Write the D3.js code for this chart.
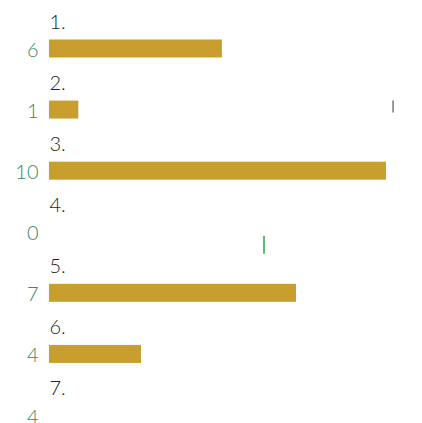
<!DOCTYPE html>
<html>
<head>
	<meta charset="utf-8">
	<style>
		html, body { margin: 0; padding: 0; background: #fff; }
		svg { display: block; }
	</style>
</head>
<body>

	<div id="chart"></div>

	<script src="https://d3js.org/d3.v7.min.js"></script>

	<script>
		// row labels, the counts shown left of each bar, and bar lengths
		const rowLabels = ['1.', '2.', '3.', '4.', '5.', '6.', '7.'];
		const counts = ['6', '1', '10', '0', '7', '4', '4'];
		const barValues = [51.3, 8.7, 100, 0, 73.3, 27.3, 0];

		// the two small tick marks
		const markerRows = [1, 3];
		const markerValues = [102.1, 63.8];
		const markerColors = ['#777777', '#21a84a'];

		const w = 422;
		const h = 423;

		const svg = d3.select('#chart')
			.append('svg')
			.attr('width', w)
			.attr('height', h);

		const x = d3.scaleLinear()
			.domain([0, 100])
			.range([49, 386]);

		// bar top for each row
		const y = d3.scaleLinear()
			.domain([0, rowLabels.length - 1])
			.range([39.5, 406]);

		const barH = 18;

		const rows = svg.selectAll('g.row')
			.data(rowLabels)
			.join('g')
				.attr('class', 'row')
				.attr('transform', (d, i) => `translate(0, ${y(i)})`);

		rows.append('text')
			.attr('x', 49.5)
			.attr('y', -11)
			.attr('fill', '#1e1e1e')
			.style('font-family', 'Lato, sans-serif')
			.style('font-weight', 300)
			.style('font-size', '20px')
			.text(d => d);

		rows.append('text')
			.attr('x', 38.5)
			.attr('y', barH - 0.5)
			.attr('text-anchor', 'end')
			.attr('fill', '#3a8860')
			.style('font-family', 'Lato, sans-serif')
			.style('font-weight', 300)
			.style('font-size', '20px')
			.text((d, i) => counts[i]);

		rows.append('rect')
			.attr('x', x(0))
			.attr('y', 0)
			.attr('width', (d, i) => x(barValues[i]) - x(0))
			.attr('height', barH)
			.attr('fill', '#c89f2e');

		markerRows.forEach((r, i) => {
			const top = i === 0 ? y(r) : y(r) + 13;
			const len = i === 0 ? 12 : 18;
			svg.append('line')
				.attr('x1', x(markerValues[i]))
				.attr('x2', x(markerValues[i]))
				.attr('y1', top)
				.attr('y2', top + len)
				.attr('stroke', markerColors[i])
				.attr('stroke-width', 1.5);
		});
	</script>

</body>
</html>
